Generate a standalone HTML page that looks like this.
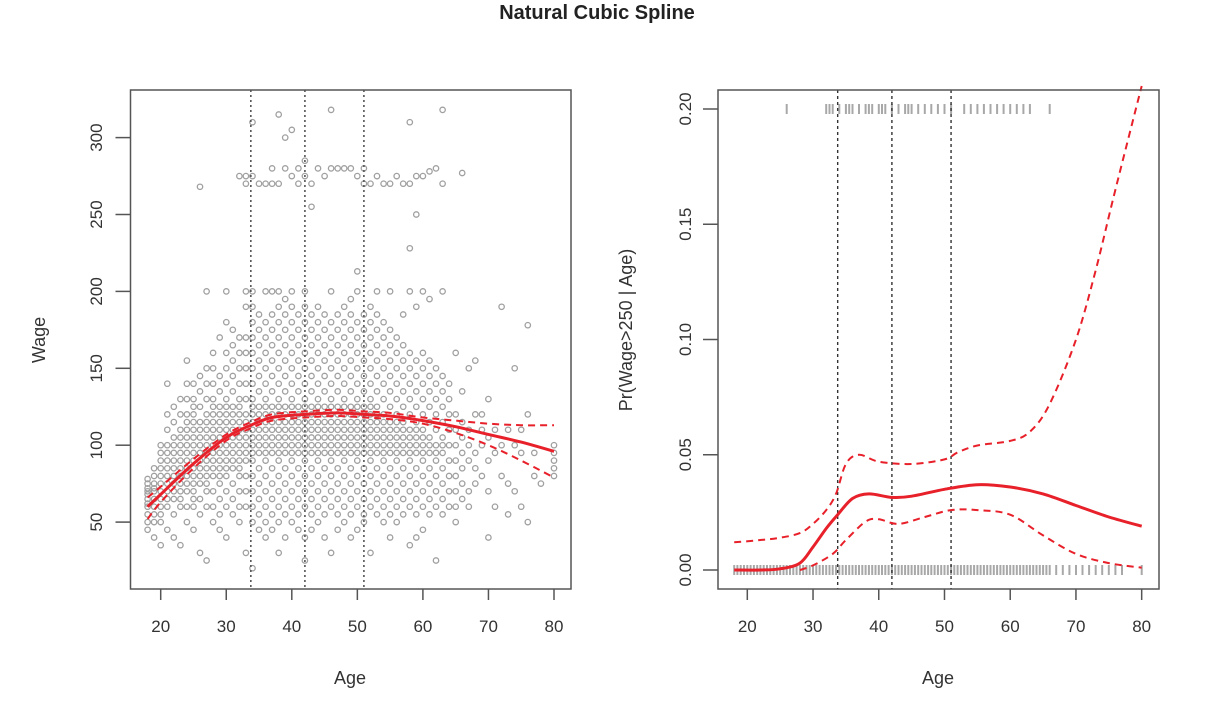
<!DOCTYPE html>
<html><head><meta charset="utf-8"><style>
body{margin:0;background:#fff;}
svg{display:block;font-family:"Liberation Sans",Arial,sans-serif;}
</style></head><body>
<svg id="chart" width="1210" height="708" viewBox="0 0 1210 708" xmlns="http://www.w3.org/2000/svg">
<text x="597" y="19" text-anchor="middle" font-size="20" font-weight="bold" fill="#222">Natural Cubic Spline</text>
<g id="left"></g>
<g id="right"></g>
</svg>
<script>
// ---- data ----
const xTicks = [20,30,40,50,60,70,80];
const wageTicks = [50,100,150,200,250,300];
const probTicks = [0,0.05,0.10,0.15,0.20];
const probTickLabels = ["0.00","0.05","0.10","0.15","0.20"];
const knots = [33.75,42,51];
const scatterByAge = {
18:[60,65,70,75,72,68,55,50,45,78,62],
19:[40,55,60,70,75,80,65,50,85,72],
20:[35,50,60,70,80,90,100,75,65,85,95,55],
21:[45,60,70,80,90,100,110,120,75,85,95,65,140],
22:[40,55,65,75,85,95,105,115,125,80,90,70,100],
23:[35,60,70,80,90,100,110,120,130,85,95,75,65,105],
24:[50,60,70,80,90,100,110,120,130,140,95,85,75,105,115,155],
25:[45,60,70,80,90,100,110,120,130,140,95,85,75,105,115,125,65],
26:[30,55,65,75,85,95,105,115,125,135,145,90,100,110,80,268],
27:[25,60,70,80,90,100,110,120,130,140,150,95,105,115,85,75,200],
28:[50,60,70,80,90,100,110,120,130,140,150,160,95,105,115,125,85],
29:[45,55,65,75,85,95,105,115,125,135,145,170,90,100,110,120,80],
30:[40,60,70,80,90,100,110,120,130,140,150,160,180,200,95,105,115,125,85],
31:[55,65,75,85,95,105,115,125,135,145,155,165,175,90,100,110,120],
32:[50,60,70,80,90,100,110,120,130,140,150,160,170,95,105,115,125,85,275],
33:[30,60,70,80,90,100,110,120,130,140,150,160,170,190,200,95,105,115,275,270],
34:[20,50,60,70,80,90,100,110,120,130,140,150,160,170,180,190,200,95,105,115,125,310,275],
35:[45,55,65,75,85,95,105,115,125,135,145,155,165,175,185,100,110,120,270],
36:[40,50,60,70,80,90,100,110,120,130,140,150,160,170,180,200,95,105,115,125,270],
37:[45,55,65,75,85,95,105,115,125,135,145,155,165,175,185,200,100,110,120,270,280],
38:[30,50,60,70,80,90,100,110,120,130,140,150,160,170,180,190,200,95,105,115,125,270,315],
39:[40,55,65,75,85,95,105,115,125,135,145,155,165,175,185,195,100,110,120,280,300],
40:[50,60,70,80,90,100,110,120,130,140,150,160,170,180,190,200,95,105,115,125,275,305],
41:[45,55,65,75,85,95,105,115,125,135,145,155,165,175,185,100,110,120,270,280],
42:[25,40,60,70,80,90,100,110,120,130,140,150,160,170,180,190,200,95,105,115,125,275,285],
43:[45,55,65,75,85,95,105,115,125,135,145,155,165,175,185,100,110,120,270,255],
44:[50,60,70,80,90,100,110,120,130,140,150,160,170,180,190,95,105,115,125,280],
45:[40,55,65,75,85,95,105,115,125,135,145,155,165,175,185,100,110,120,275],
46:[30,60,70,80,90,100,110,120,130,140,150,160,170,180,200,95,105,115,125,280,318],
47:[45,55,65,75,85,95,105,115,125,135,145,155,165,175,185,100,110,120,280],
48:[50,60,70,80,90,100,110,120,130,140,150,160,170,180,190,95,105,115,125,280],
49:[40,55,65,75,85,95,105,115,125,135,145,155,165,175,185,195,100,110,120,280],
50:[45,60,70,80,90,100,110,120,130,140,150,160,170,180,200,95,105,115,125,213,275],
51:[50,55,65,75,85,95,105,115,125,135,145,155,165,175,185,100,110,120,270,280],
52:[30,60,70,80,90,100,110,120,130,140,150,160,170,180,190,95,105,115,125,270],
53:[55,65,75,85,95,105,115,125,135,145,155,165,175,185,200,100,110,120,275],
54:[50,60,70,80,90,100,110,120,130,140,150,160,170,180,95,105,115,270],
55:[40,55,65,75,85,95,105,115,125,135,145,155,165,175,200,100,110,270],
56:[50,60,70,80,90,100,110,120,130,140,150,160,170,95,105,115,275],
57:[55,65,75,85,95,105,115,125,135,145,155,165,185,100,110,270],
58:[35,60,70,80,90,100,110,120,130,140,150,160,200,95,105,228,270,310],
59:[40,55,65,75,85,95,105,115,125,135,145,155,190,100,110,250,275],
60:[45,60,70,80,90,100,110,120,130,140,150,160,200,95,105,275],
61:[55,65,75,85,95,105,115,125,135,145,155,195,100,278],
62:[25,60,70,80,90,100,110,120,130,140,150,95,280],
63:[55,65,75,85,95,105,115,125,135,145,100,200,318,270],
64:[60,70,80,90,100,110,120,130,140],
65:[50,60,70,80,90,100,110,120,160],
66:[65,75,85,95,105,115,135,277],
67:[60,70,90,100,110,150],
68:[75,85,95,120,155],
69:[80,100,110,120],
70:[40,70,90,105,130],
71:[60,95,110],
72:[80,100,190],
73:[55,75,110],
74:[70,100,150],
75:[60,95,110],
76:[50,120,178],
77:[80,95],
78:[75],
80:[80,85,90,95,100]
};
const fitAges = [18,20,25,30,33.75,37,42,47,51,55,60,65,70,75,80];
const wageFit = [60,68,88,105,113,118,120,121,120,119,116,112,107,102,96];
const wageUpper = [66,73,91,107,115,120,122,123,122,121,118,116,114,113,113];
const wageLower = [52,63,85,103,111,116,118,119,118,117,114,108,100,90,79];
const probAges = [18,22,25,28,30,32,33.75,36,38.5,42,45,50,55,60,65,70,75,80];
const probFit = [0,0,0.0005,0.003,0.01,0.018,0.024,0.031,0.033,0.0315,0.032,0.035,0.037,0.036,0.033,0.028,0.023,0.019];
const probUpperAges = [18,22,25,28,30,32,33.5,35,37,40,45,50,52,55,60,63,66,70,73,76,80];
const probUpper = [0.012,0.013,0.014,0.016,0.02,0.026,0.033,0.046,0.05,0.047,0.046,0.048,0.051,0.054,0.056,0.06,0.072,0.10,0.13,0.165,0.21];
const probLowerAges = [28,30,33,35,38,40,43,47,51,55,60,65,70,75,80];
const probLower = [0,0.002,0.007,0.013,0.021,0.022,0.02,0.023,0.026,0.026,0.024,0.015,0.007,0.003,0.001];
const highEarnerAges = [26,32,32.5,33,34,35,35.5,36,37,38,38.5,39,40,40.5,41,42,43,44,44.5,45,46,47,48,49,50,51,53,54,55,56,57,58,59,60,61,62,63,66];
const allAges = [18,18.5,19,19.5,20,20.5,21,21.5,22,22.5,23,23.5,24,24.5,25,25.5,26,26.5,27,27.5,28,28.5,29,29.5,30,30.5,31,31.5,32,32.5,33,33.5,34,34.5,35,35.5,36,36.5,37,37.5,38,38.5,39,39.5,40,40.5,41,41.5,42,42.5,43,43.5,44,44.5,45,45.5,46,46.5,47,47.5,48,48.5,49,49.5,50,50.5,51,51.5,52,52.5,53,53.5,54,54.5,55,55.5,56,56.5,57,57.5,58,58.5,59,59.5,60,60.5,61,61.5,62,62.5,63,63.5,64,64.5,65,65.5,66,67,68,69,70,71,72,73,74,75,76,77,80];

// ---- helpers ----
const NS="http://www.w3.org/2000/svg";
function mk(parent,tag,attrs){const e=document.createElementNS(NS,tag);for(const k in attrs)e.setAttribute(k,attrs[k]);parent.appendChild(e);return e;}
function monoPath(xs,ys,sx,sy){
  const p=xs.map((x,i)=>[sx(x),sy(ys[i])]);
  let d="M"+p[0][0].toFixed(1)+","+p[0][1].toFixed(1);
  for(let i=0;i<p.length-1;i++){
    const p0=p[Math.max(0,i-1)],p1=p[i],p2=p[i+1],p3=p[Math.min(p.length-1,i+2)];
    const c1=[p1[0]+(p2[0]-p0[0])/6,p1[1]+(p2[1]-p0[1])/6];
    const c2=[p2[0]-(p3[0]-p1[0])/6,p2[1]-(p3[1]-p1[1])/6];
    d+=" C"+c1.map(v=>v.toFixed(1))+" "+c2.map(v=>v.toFixed(1))+" "+p2.map(v=>v.toFixed(1));
  }
  return d;
}

// ---- left panel ----
const L=document.getElementById('left');
const lx=a=>160.7+(a-20)*6.555;
const ly=w=>599-w*1.538;
const LB={x0:130.5,x1:571,y0:90,y1:589};
let e;
for(const a in scatterByAge){
  for(const w of scatterByAge[a]){
    e=mk(L,'circle',{cx:lx(+a).toFixed(1),cy:ly(w).toFixed(1),r:2.7,fill:'none',stroke:'#a0a0a0','stroke-width':1.3});
    
    
  }
}
for(const k of knots){
  e=mk(L,'line',{x1:lx(k),x2:lx(k),y1:LB.y0,y2:LB.y1,stroke:'#555','stroke-width':1.6,'stroke-dasharray':'2,3'});
  
  
}
e=mk(L,'path',{d:monoPath(fitAges,wageUpper,lx,ly),fill:'none',stroke:'#e8202a','stroke-width':2,'stroke-dasharray':'7,5'});


e=mk(L,'path',{d:monoPath(fitAges,wageLower,lx,ly),fill:'none',stroke:'#e8202a','stroke-width':2,'stroke-dasharray':'7,5'});


e=mk(L,'path',{d:monoPath(fitAges,wageFit,lx,ly),fill:'none',stroke:'#e8202a','stroke-width':3});


e=mk(L,'rect',{x:LB.x0,y:LB.y0,width:LB.x1-LB.x0,height:LB.y1-LB.y0,fill:'none',stroke:'#555','stroke-width':1.5});


for(const t of xTicks){
  mk(L,'line',{x1:lx(t),x2:lx(t),y1:LB.y1,y2:LB.y1+11,stroke:'#555','stroke-width':1.5});
  e=mk(L,'text',{x:lx(t),y:632,'text-anchor':'middle','font-size':17,fill:'#333'});e.textContent=t;
  
  
}
for(const t of wageTicks){
  mk(L,'line',{x1:LB.x0-15,x2:LB.x0,y1:ly(t),y2:ly(t),stroke:'#555','stroke-width':1.5});
  e=mk(L,'text',{x:0,y:0,transform:`translate(102,${ly(t)}) rotate(-90)`,'text-anchor':'middle','font-size':17,fill:'#333'});e.textContent=t;
  
  
}
e=mk(L,'text',{x:350,y:684,'text-anchor':'middle','font-size':18,fill:'#333'});e.textContent='Age';


e=mk(L,'text',{x:0,y:0,transform:'translate(45,340) rotate(-90)','text-anchor':'middle','font-size':18,fill:'#333'});e.textContent='Wage';



// ---- right panel ----
const R=document.getElementById('right');
const rx=a=>747.3+(a-20)*6.573;
const ry=p=>570-p*2305;
const RB={x0:718,x1:1159,y0:90,y1:589};
for(const a of allAges){
  e=mk(R,'line',{x1:rx(a).toFixed(1),x2:rx(a).toFixed(1),y1:ry(0)-5,y2:ry(0)+5,stroke:'#a8a8a8','stroke-width':2});
  
  
}
for(const a of highEarnerAges){
  e=mk(R,'line',{x1:rx(a).toFixed(1),x2:rx(a).toFixed(1),y1:ry(0.2)-5,y2:ry(0.2)+5,stroke:'#a8a8a8','stroke-width':2});
  
  
}
for(const k of knots){
  e=mk(R,'line',{x1:rx(k),x2:rx(k),y1:RB.y0,y2:RB.y1,stroke:'#333','stroke-width':1.4,'stroke-dasharray':'3,3'});
  
  
}
e=mk(R,'path',{d:monoPath(probUpperAges,probUpper,rx,ry),fill:'none',stroke:'#e8202a','stroke-width':2,'stroke-dasharray':'7,5'});


e=mk(R,'path',{d:monoPath(probLowerAges,probLower,rx,ry),fill:'none',stroke:'#e8202a','stroke-width':2,'stroke-dasharray':'7,5'});


e=mk(R,'path',{d:monoPath(probAges,probFit,rx,ry),fill:'none',stroke:'#e8202a','stroke-width':3});


e=mk(R,'rect',{x:RB.x0,y:RB.y0,width:RB.x1-RB.x0,height:RB.y1-RB.y0,fill:'none',stroke:'#555','stroke-width':1.5});


for(const t of xTicks){
  mk(R,'line',{x1:rx(t),x2:rx(t),y1:RB.y1,y2:RB.y1+11,stroke:'#555','stroke-width':1.5});
  e=mk(R,'text',{x:rx(t),y:632,'text-anchor':'middle','font-size':17,fill:'#333'});e.textContent=t;
  
  
}
probTicks.forEach((t,i)=>{
  mk(R,'line',{x1:RB.x0-15,x2:RB.x0,y1:ry(t),y2:ry(t),stroke:'#555','stroke-width':1.5});
  e=mk(R,'text',{x:0,y:0,transform:`translate(691,${ry(t)}) rotate(-90)`,'text-anchor':'middle','font-size':17,fill:'#333'});e.textContent=probTickLabels[i];
  
  
});
e=mk(R,'text',{x:938,y:684,'text-anchor':'middle','font-size':18,fill:'#333'});e.textContent='Age';


e=mk(R,'text',{x:0,y:0,transform:'translate(632,330) rotate(-90)','text-anchor':'middle','font-size':18,fill:'#333'});e.textContent='Pr(Wage>250 | Age)';


</script>
</body></html>
